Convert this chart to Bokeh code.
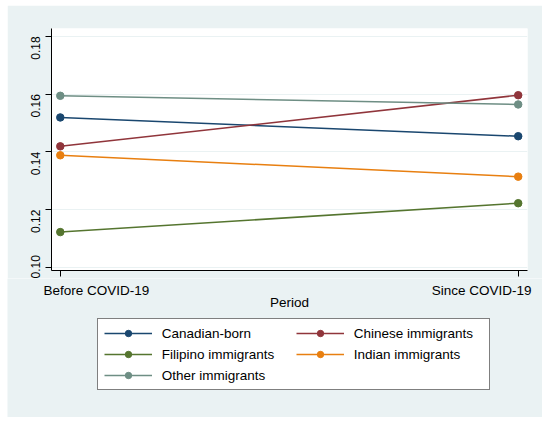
import math
from bokeh.plotting import figure
from bokeh.layouts import column
from bokeh.models import (Range1d, FixedTicker, PrintfTickFormatter, CustomJSTickFormatter,
                          Label, Legend, LegendItem)
from bokeh.embed import file_html
from bokeh.resources import INLINE

# ---- data ----
periods = ["Before COVID-19", "Since COVID-19"]
x_pos = [0, 1]
groups = ["Canadian-born", "Chinese immigrants", "Filipino immigrants",
          "Indian immigrants", "Other immigrants"]
canadian_born = [0.1519, 0.1454]
chinese_imm = [0.1419, 0.1596]
filipino_imm = [0.1122, 0.1222]
indian_imm = [0.1388, 0.1314]
other_imm = [0.1594, 0.1564]
y_ticks = [0.10, 0.12, 0.14, 0.16, 0.18]
x_title = "Period"

series = [canadian_born, chinese_imm, filipino_imm, indian_imm, other_imm]
colors = ["#1a476f", "#90353b", "#55752f", "#e87f10", "#6e8e84"]

FONT = "Liberation Sans"
FS = "13.5px"
BG = "#eaf2f3"

W = 535
BL, BR = 44, 15
X0, X1 = -0.0192, 1.0203

p = figure(width=W, height=273, output_backend="svg", toolbar_location=None,
           x_range=Range1d(X0, X1), y_range=Range1d(0.0989, 0.1827),
           min_border_left=BL, min_border_right=BR, min_border_top=23, min_border_bottom=8)
p.frame_align = False
p.margin = (5, 0, 0, 7)
p.border_fill_color = BG
p.background_fill_color = "white"
p.outline_line_color = None

# y axis
p.yaxis.ticker = FixedTicker(ticks=y_ticks)
p.yaxis.formatter = PrintfTickFormatter(format="%.2f")
p.yaxis.major_label_orientation = math.pi / 2
p.yaxis.major_label_text_font = FONT
p.yaxis.major_label_text_font_size = "12px"
p.yaxis.major_label_text_color = "black"
p.yaxis.major_label_standoff = 10
p.yaxis.axis_line_color = "black"
p.yaxis.major_tick_line_color = "black"
p.yaxis.major_tick_out = 6
p.yaxis.major_tick_in = 0
p.yaxis.minor_tick_line_color = None

# x axis (tick labels drawn in the lower panel)
p.xaxis.ticker = FixedTicker(ticks=x_pos)
p.xaxis.formatter = CustomJSTickFormatter(code="return ''")
p.xaxis.major_label_text_font_size = "0px"
p.xaxis.major_label_standoff = 0
p.xaxis.axis_line_color = "black"
p.xaxis.major_tick_line_color = "black"
p.xaxis.major_tick_out = 6
p.xaxis.major_tick_in = 0
p.xaxis.minor_tick_line_color = None

p.xgrid.visible = False
p.ygrid.grid_line_color = BG
p.ygrid.grid_line_width = 1

for vals, col in zip(series, colors):
    p.line(x_pos, vals, line_color=col, line_width=1.5)
    p.scatter(x_pos, vals, size=7.5, fill_color=col, line_color=col, marker="circle")

# ---- lower panel: x tick labels, axis title, legend ----
ppu = (W - BL - BR) / (X1 - X0)
H2 = 139
p2 = figure(width=W, height=H2, output_backend="svg", toolbar_location=None,
            x_range=Range1d(X0 - BL / ppu, X1 + BR / ppu), y_range=Range1d(0, H2),
            min_border=0, min_border_left=0, min_border_right=0,
            min_border_top=0, min_border_bottom=0)
p2.frame_align = False
p2.margin = (0, 0, 0, 7)
p2.axis.visible = False
p2.grid.visible = False
p2.outline_line_color = None
p2.background_fill_color = BG
p2.border_fill_color = BG

items = []
for name, vals, col in zip(groups, series, colors):
    lr = p2.line(x_pos, vals, line_color=col, line_width=1.5, visible=False)
    sr = p2.scatter(x_pos, vals, size=7.5, fill_color=col, line_color=col,
                    marker="circle", visible=False)
    items.append(LegendItem(label=name, renderers=[lr, sr]))

legend = Legend(items=items, ncols=2, orientation="horizontal", location=(89.7, 27),
                border_line_color="black", border_line_width=1,
                background_fill_color="white", background_fill_alpha=1.0,
                padding=6, spacing=5, margin=0,
                glyph_width=48, glyph_height=16, label_height=16, label_width=129,
                label_standoff=10, label_text_font=FONT, label_text_font_size=FS,
                label_text_color="black", inactive_fill_alpha=0)
p2.add_layout(legend)

p2.add_layout(Label(x=x_pos[0], y=127.5, x_units="data", y_units="screen", text=periods[0],
                    text_align="left", text_baseline="middle", x_offset=-16.8,
                    text_font=FONT, text_font_size=FS, text_color="black"))
p2.add_layout(Label(x=x_pos[1], y=127.5, x_units="data", y_units="screen", text=periods[1],
                    text_align="right", text_baseline="middle", x_offset=13.3,
                    text_font=FONT, text_font_size=FS, text_color="black"))
p2.add_layout(Label(x=(X0 + X1) / 2, y=114.7, x_units="data", y_units="screen", text=x_title,
                    text_align="center", text_baseline="middle",
                    text_font=FONT, text_font_size=FS, text_color="black"))

layout = column(p, p2, spacing=0)
open("out.html", "w").write(file_html(layout, INLINE))
